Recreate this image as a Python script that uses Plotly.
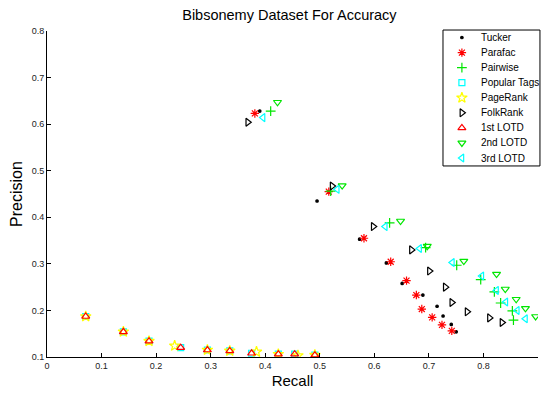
import plotly.graph_objects as go

# Recall / precision pairs per method (10 operating points each)
tucker_recall = [0.390, 0.495, 0.573, 0.622, 0.651, 0.689, 0.715, 0.726, 0.741, 0.750]
tucker_prec = [0.628, 0.435, 0.353, 0.302, 0.258, 0.233, 0.209, 0.188, 0.170, 0.154]

parafac_recall = [0.381, 0.5165, 0.581, 0.630, 0.659, 0.677, 0.687, 0.706, 0.724, 0.742]
parafac_prec = [0.623, 0.455, 0.355, 0.3045, 0.264, 0.233, 0.203, 0.185, 0.169, 0.156]

pairwise_recall = [0.410, 0.520, 0.628, 0.694, 0.751, 0.795, 0.820, 0.8315, 0.853, 0.855]
pairwise_prec = [0.628, 0.456, 0.388, 0.335, 0.297, 0.266, 0.240, 0.216, 0.199, 0.179]

popular_recall = [0.071, 0.140, 0.187, 0.245, 0.294, 0.335, 0.375, 0.424, 0.454, 0.491]
popular_prec = [0.187, 0.154, 0.134, 0.120, 0.115, 0.113, 0.108, 0.106, 0.106, 0.104]

pagerank_recall = [0.071, 0.140, 0.187, 0.234, 0.294, 0.335, 0.384, 0.424, 0.460, 0.491]
pagerank_prec = [0.187, 0.154, 0.134, 0.124, 0.115, 0.113, 0.111, 0.106, 0.103, 0.104]

folkrank_recall = [0.368, 0.5226, 0.598, 0.668, 0.701, 0.730, 0.742, 0.770, 0.811, 0.834]
folkrank_prec = [0.604, 0.467, 0.380, 0.330, 0.2845, 0.250, 0.217, 0.197, 0.184, 0.174]

lotd1_recall = [0.071, 0.140, 0.187, 0.245, 0.294, 0.335, 0.375, 0.424, 0.454, 0.491]
lotd1_prec = [0.187, 0.154, 0.134, 0.120, 0.115, 0.113, 0.108, 0.106, 0.106, 0.104]

lotd2_recall = [0.4225, 0.541, 0.648, 0.697, 0.764, 0.824, 0.840, 0.860, 0.877, 0.8956]
lotd2_prec = [0.647, 0.468, 0.392, 0.338, 0.306, 0.278, 0.246, 0.224, 0.2045, 0.187]

lotd3_recall = [0.396, 0.532, 0.620, 0.683, 0.743, 0.797, 0.824, 0.841, 0.862, 0.877]
lotd3_prec = [0.614, 0.460, 0.380, 0.333, 0.303, 0.274, 0.243, 0.218, 0.200, 0.182]

series = [
    ("Tucker", tucker_recall, tucker_prec, "circle", "black", 2.5),
    ("Parafac", parafac_recall, parafac_prec, "asterisk-open", "red", 7),
    ("Pairwise", pairwise_recall, pairwise_prec, "cross-thin-open", "#00e600", 7),
    ("Popular Tags", popular_recall, popular_prec, "square-open", "cyan", 6),
    ("PageRank", pagerank_recall, pagerank_prec, "star-open", "yellow", 8),
    ("FolkRank", folkrank_recall, folkrank_prec, "triangle-right-open", "black", 7),
    ("1st LOTD", lotd1_recall, lotd1_prec, "triangle-up-open", "red", 7),
    ("2nd LOTD", lotd2_recall, lotd2_prec, "triangle-down-open", "#00e600", 7),
    ("3rd LOTD", lotd3_recall, lotd3_prec, "triangle-left-open", "cyan", 7),
]

FONT = "Liberation Sans, Arial, sans-serif"

fig = go.Figure()
for name, xs, ys, sym, col, size in series:
    fig.add_trace(go.Scatter(
        x=xs, y=ys, mode="markers", name=name, showlegend=False,
        marker=dict(symbol=sym, color=col, size=size, line=dict(color=col, width=1.2)),
    ))

# Compact boxed legend in the top-right corner, drawn on an overlay axis
# spanning the plot area in [0, 1] x [0, 1] units.
leg_x0, leg_x1, leg_y0, leg_y1 = 0.8065, 1.004, 0.586, 1.003
leg_sym_x, leg_txt_x = 0.845, 0.880
leg_top, leg_step = 0.980, 0.0462
fig.add_shape(type="rect", xref="paper", yref="paper",
              x0=leg_x0, x1=leg_x1, y0=leg_y0, y1=leg_y1,
              line=dict(color="black", width=1), fillcolor="white", layer="below")
for i, (name, xs, ys, sym, col, size) in enumerate(series):
    yy = leg_top - i * leg_step
    fig.add_trace(go.Scatter(
        x=[leg_sym_x], y=[yy], xaxis="x2", yaxis="y2", mode="markers",
        showlegend=False, hoverinfo="skip",
        marker=dict(symbol=sym, color=col, size=size, line=dict(color=col, width=1.2)),
    ))
    fig.add_annotation(x=leg_txt_x, y=yy, xref="paper", yref="paper", text=name,
                       showarrow=False, xanchor="left", yanchor="middle",
                       font=dict(family=FONT, size=10, color="black"))

axis_common = dict(
    showgrid=False, zeroline=False, showline=True, linecolor="black", linewidth=1,
    ticks="inside", ticklen=4, tickcolor="black", mirror=False,
    tickfont=dict(family=FONT, size=9, color="#222"),
)

fig.update_layout(
    width=543, height=394,
    margin=dict(l=47, r=5, t=31, b=37),
    plot_bgcolor="white", paper_bgcolor="white",
    showlegend=False,
    title=dict(text="Bibsonemy Dataset For Accuracy", x=0.533, xanchor="center",
               y=0.963, yanchor="middle",
               font=dict(family=FONT, size=14.5, color="black")),
    xaxis=dict(range=[0, 0.9], dtick=0.1, tickformat=".1~f",
               title=dict(text="Recall", standoff=5,
                          font=dict(family=FONT, size=15, color="black")),
               **axis_common),
    yaxis=dict(range=[0.1, 0.8], dtick=0.1, tick0=0.1, tickformat=".1f",
               title=dict(text="Precision", standoff=5,
                          font=dict(family=FONT, size=16, color="black")),
               **axis_common),
    xaxis2=dict(range=[0, 1], overlaying="x", visible=False, fixedrange=True),
    yaxis2=dict(range=[0, 1], overlaying="y", visible=False, fixedrange=True),
)

fig.write_html("out.html")
